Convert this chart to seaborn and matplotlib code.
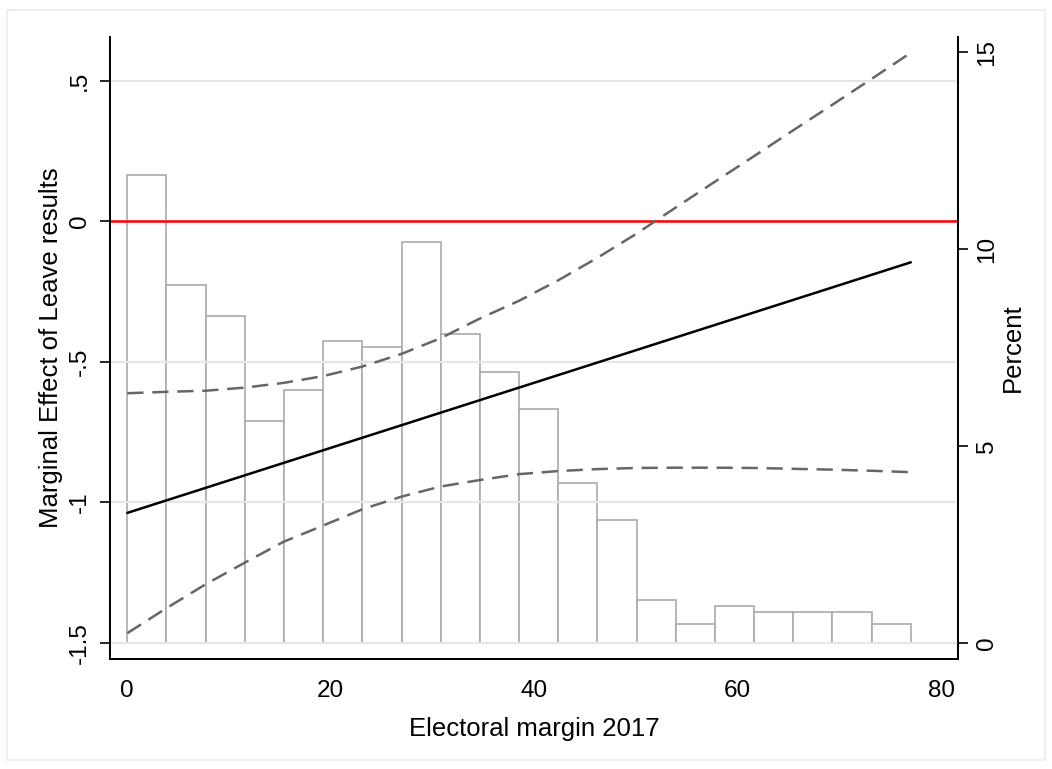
import numpy as np
import seaborn as sns
import matplotlib.pyplot as plt
from matplotlib.patches import Rectangle

# histogram of electoral margin (percent of seats per bin)
bin_edges = [0, 3.85, 7.7, 11.55, 15.4, 19.25, 23.1, 26.95, 30.8, 34.65, 38.5,
             42.35, 46.2, 50.05, 53.9, 57.75, 61.6, 65.45, 69.3, 73.15, 77]
bin_pct = [11.90, 9.09, 8.31, 5.64, 6.42, 7.67, 7.51, 10.19, 7.84, 6.89,
           5.96, 4.08, 3.14, 1.11, 0.48, 0.95, 0.79, 0.79, 0.79, 0.48]

# marginal effect and 95% bounds
me_x = [0, 77]
me_y = [-1.038, -0.146]
ci_x = bin_edges
ci_upper = [-0.612, -0.607, -0.603, -0.592, -0.575, -0.551, -0.517, -0.472, -0.416, -0.346,
            -0.283, -0.210, -0.130, -0.044, 0.049, 0.141, 0.232, 0.324, 0.415, 0.507, 0.600]
ci_lower = [-1.466, -1.377, -1.292, -1.215, -1.140, -1.083, -1.025, -0.980, -0.944, -0.921,
            -0.900, -0.889, -0.882, -0.878, -0.877, -0.877, -0.878, -0.881, -0.884, -0.888, -0.893]

left_ticks = [-1.5, -1, -0.5, 0, 0.5]
left_labels = ['-1.5', '-1', '-.5', '0', '.5']
right_ticks = [0, 5, 10, 15]

sns.set_style('white')
plt.rcParams['font.family'] = ['Liberation Sans', 'DejaVu Sans']
plt.rcParams['text.color'] = 'black'
plt.rcParams['axes.labelcolor'] = 'black'

fig = plt.figure(figsize=(10.52, 7.69), dpi=100)
fig.patches.append(Rectangle((7/1052, 9/769), 1038/1052, 750/769, transform=fig.transFigure,
                             fill=False, edgecolor='#eeeeee', linewidth=1.5))
ax = fig.add_axes([110/1052, 110/769, 848/1052, 622/769])
ax2 = ax.twinx()

centers = [(bin_edges[i] + bin_edges[i+1]) / 2 for i in range(len(bin_pct))]
sns.histplot(x=centers, weights=bin_pct, bins=bin_edges, ax=ax2, color='white',
             edgecolor='#aaaaaa', linewidth=1.2, alpha=1)

ax.set_zorder(ax2.get_zorder() + 1)
ax.patch.set_visible(False)

for t in left_ticks:
    ax.axhline(t, color='#e6e6e6', linewidth=1.5, zorder=0)
ax.axhline(0, color='red', linewidth=1.8, zorder=2)
sns.lineplot(x=ci_x, y=ci_upper, ax=ax, color='#666666', linewidth=1.8,
             linestyle=(0, (6.5, 3.5)), zorder=3)
sns.lineplot(x=ci_x, y=ci_lower, ax=ax, color='#666666', linewidth=1.8,
             linestyle=(0, (6.5, 3.5)), zorder=3)
sns.lineplot(x=me_x, y=me_y, ax=ax, color='black', linewidth=1.8, zorder=4)

ax.set_xlim(-1.70, 81.64)
ax.set_ylim(-1.558, 0.656)
ax2.set_ylim(-0.396, 15.39)

ax.set_xticks([0, 20, 40, 60, 80])
ax.set_yticks(left_ticks)
ax.set_yticklabels(left_labels, rotation=90, va='center')
ax2.set_yticks(right_ticks)
ax2.set_yticklabels([str(t) for t in right_ticks], rotation=90, va='center')

for a in (ax, ax2):
    a.tick_params(axis='both', direction='out', length=7, width=1.2, colors='black',
                  labelsize=17.5)
    a.spines['top'].set_visible(False)
    for s in ('left', 'bottom', 'right'):
        a.spines[s].set_color('black')
        a.spines[s].set_linewidth(1.3)
ax.tick_params(axis='x', pad=8)
ax.tick_params(axis='y', pad=7)
ax2.tick_params(axis='y', pad=6)
ax2.set_ylabel('Percent', fontsize=18.5, labelpad=2)
ax.set_ylabel('Marginal Effect of Leave results', fontsize=18.5, labelpad=4)
ax.set_xlabel('Electoral margin 2017', fontsize=18.5, labelpad=11)

fig.savefig('out.png', dpi=100)
